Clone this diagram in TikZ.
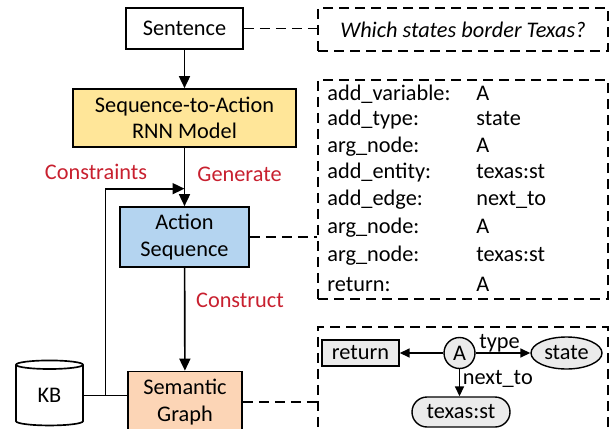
\documentclass[tikz,border=0pt]{standalone}
\usepackage{fontspec}
\setmainfont{Carlito}
\usetikzlibrary{calc}
\usetikzlibrary{arrows.meta}
\usetikzlibrary{shapes.geometric}
\definecolor{seqyellow}{HTML}{FFE699}
\definecolor{actblue}{HTML}{B4D4F0}
\definecolor{semorange}{HTML}{FCD5B6}
\definecolor{labred}{HTML}{C8202F}
\definecolor{graphgray}{HTML}{EBEBEB}
\tikzset{
  flowbox/.style={draw, line width=0.95pt, align=center, inner sep=0pt},
  dashbox/.style={draw, line width=0.8pt, dash pattern=on 0.2cm off 0.12cm, inner sep=0pt},
  dashlink/.style={line width=0.8pt, dash pattern=on 0.2cm off 0.12cm},
  flowarrow/.style={line width=0.95pt, -{Triangle[length=0.24cm,width=0.22cm]}},
  grapharrow/.style={line width=0.9pt, -{Triangle[length=0.2cm,width=0.18cm]}},
  redlabel/.style={text=labred},
  listtext/.style={anchor=west, text height=0.75em, text depth=0.25em, inner sep=0pt},
  gnode/.style={draw, fill=graphgray, line width=0.8pt, inner sep=0pt}
}
\begin{document}
\begin{tikzpicture}[font=\fontsize{12.7}{15.2}\selectfont]
            \useasboundingbox (0,0) rectangle (12.18,8.56);

            % main flow
            \node[flowbox, minimum width=2.34cm, minimum height=0.82cm] (sent) at (3.69,7.99) {Sentence};
            \node[flowbox, fill=seqyellow, minimum width=4.46cm, minimum height=1.16cm] (seq) at (3.69,6.20) {Sequence-to-Action\\RNN Model};
            \node[flowbox, fill=actblue, minimum width=2.58cm, minimum height=1.2cm] (act) at (3.69,3.82) {Action\\Sequence};
            \node[flowbox, fill=semorange, minimum width=2.28cm, minimum height=1.22cm] (sem) at (3.70,0.52) {Semantic\\Graph};
            \node[cylinder, shape border rotate=90, draw, line width=0.95pt, aspect=0.36, minimum width=1.34cm, minimum height=1.3cm, inner sep=0pt] (kb) at (0.99,0.65) {KB};

            \draw[flowarrow](sent)--(seq);
            \draw[flowarrow](seq)--(act);
            \draw[flowarrow](act)--(sem);

            \coordinate (kbjoin) at ($(kb.east)!0.5!(kb.east -| sem.west)$);
            \coordinate (cons) at ($(seq.south)!0.7!(act.north)$);
            \draw[line width=0.95pt](kb.east)--(kb.east -| sem.west);
            \draw[flowarrow](kbjoin)|-(cons);

            \node[redlabel] (conslab) at (1.92,5.12) {Constraints};
            \node[redlabel] (genlab) at (4.79,5.08) {Generate};
            \node[redlabel] (constrlab) at (4.80,2.56) {Construct};

            % dashed boxes
            \node[dashbox, minimum width=5.8cm, minimum height=0.86cm] (quest) at (9.26,7.97) {\itshape Which states border Texas?};
            \node[dashbox, minimum width=5.8cm, minimum height=4.38cm] (acts) at (9.26,4.77) {};
            \node[dashbox, minimum width=5.8cm, minimum height=2.6cm] (graph) at (9.26,0.72) {};

            \draw[dashlink](sent.east)--(sent.east -| quest.west);
            \draw[dashlink](act.east)--(act.east -| acts.west);
            \draw[dashlink](sem.east)--(sem.east -| graph.west);

            \foreach \i/\op/\arg/\y in{1/add\_variable:/A/6.64, 2/add\_type:/state/6.14, 3/arg\_node:/A/5.60, 4/add\_entity:/texas:st/5.08, 5/add\_edge:/next\_to/4.54, 6/arg\_node:/A/3.98, 7/arg\_node:/texas:st/3.42, 8/return:/A/2.82}{
                \node[listtext] (op\i) at (6.54,\y) {\op};
                \node[listtext] (arg\i) at (9.52,\y) {\arg};
            }

            % semantic graph
            \node[gnode, minimum width=1.54cm, minimum height=0.52cm] (ret) at (7.21,1.50) {return};
            \node[gnode, circle, minimum size=0.62cm] (avar) at (9.19,1.50) {A};
            \node[gnode, ellipse, minimum width=1.42cm, minimum height=0.64cm] (state) at (11.33,1.50) {state};
            \node[gnode, rounded corners=0.3cm, minimum width=1.96cm, minimum height=0.6cm] (texas) at (9.22,0.32) {texas:st};

            \draw[grapharrow](avar)--(ret);
            \draw[grapharrow](avar)--(state) node[midway, above, inner sep=0pt, xshift=-2pt] (typelab) {type};
            \draw[grapharrow](avar.south)--(avar.south |- texas.north) node[midway, right, inner sep=1.5pt, yshift=2pt] (nextlab) {next\_to};

        \end{tikzpicture}
\end{document}
